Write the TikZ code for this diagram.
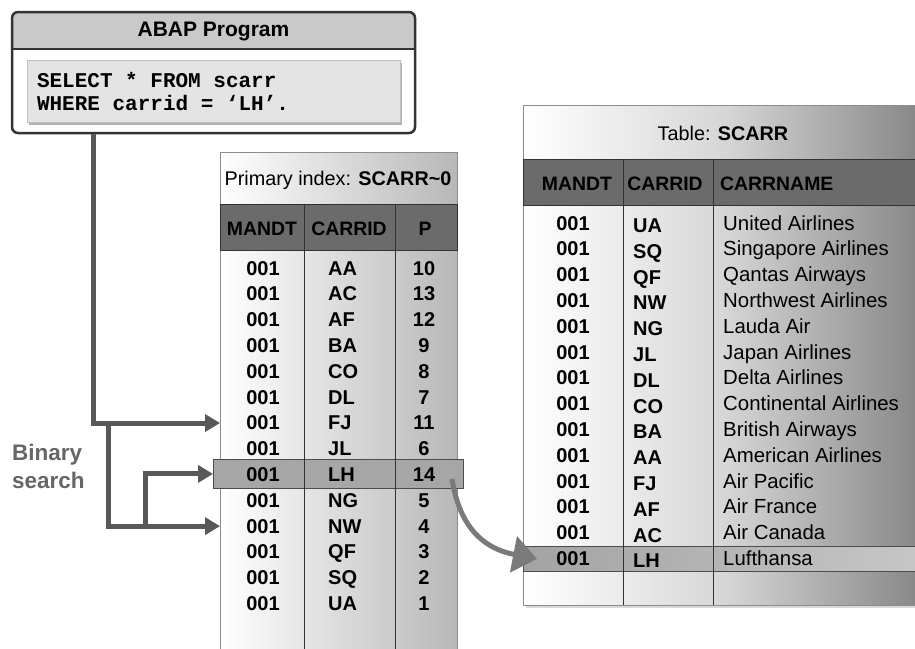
\documentclass[tikz,border=0pt]{standalone}
\usepackage{fontspec}
\setmainfont{Liberation Sans}
\setmonofont{Liberation Mono}
\usetikzlibrary{arrows.meta}

\definecolor{framecol}{HTML}{333333}
\definecolor{abaphead}{HTML}{C9C9C9}
\definecolor{codegray}{HTML}{E4E4E4}
\definecolor{linegray}{HTML}{585858}
\definecolor{hdrgray}{HTML}{6B6B6B}
\definecolor{hlgray}{HTML}{A6A6A6}
\definecolor{swooshgray}{HTML}{7A7A7A}
\definecolor{labelgray}{HTML}{666666}

\tikzset{
  abapbox/.style={draw=framecol, line width=2.5pt, rounded corners=6pt, minimum width=403pt, minimum height=121pt, inner sep=0pt},
  codebox/.style={fill=codegray, draw=black!25, text width=353pt, inner xsep=10pt, minimum height=62pt, align=left, font=\fontsize{21}{23}\selectfont\ttfamily\bfseries},
  tableframe/.style={draw=black!45, line width=0.8pt, inner sep=0pt, anchor=north west},
  hdrband/.style={fill=hdrgray, draw=black!80, line width=0.8pt, inner sep=0pt, anchor=north west},
  hlbar/.style={fill=hlgray, draw=black!70, line width=0.8pt, inner sep=0pt, anchor=north west},
  colline/.style={draw=black!80, line width=0.8pt},
  titletext/.style={anchor=base, inner sep=0pt, font=\fontsize{19.8}{22}\selectfont},
  hdrtext/.style={anchor=base, inner sep=0pt, font=\fontsize{19.4}{22}\selectfont\bfseries},
  celltext/.style={anchor=base, inner sep=0pt, font=\fontsize{20}{22}\selectfont\bfseries},
  nametext/.style={anchor=base west, inner sep=0pt, font=\fontsize{20.4}{22}\selectfont},
  conn/.style={draw=linegray, line width=5pt, -{Triangle[length=15pt,width=17pt]}},
  swoosh/.style={draw=swooshgray, line width=5pt, -{Triangle[length=24pt,width=36pt]}},
}

\begin{document}
\begin{tikzpicture}[x=1pt,y=-1pt]
\path[use as bounding box, clip] (0,0) rectangle (915,648);
\fill[white] (0,0) rectangle (915,648);

% ABAP program box
\begin{scope}
  \clip[rounded corners=6pt] (12,12) rectangle (415,133);
  \fill[abaphead] (12,12) rectangle (415,49);
\end{scope}
\draw[framecol, line width=1.2pt] (12,49) -- (415,49);
\node[abapbox] (abap) at (213.5,72.5) {};
\node[font=\fontsize{21}{24}\selectfont\bfseries] (abaptitle) at (213.5,31) {ABAP Program};
\fill[black!30] (29,63) rectangle (402,125);
\node[codebox] (code) at (213.5,91) {\spaceskip=12.6pt\relax SELECT * FROM scarr\\WHERE carrid = ‘LH’.};

% primary index
\node[tableframe, left color=white, right color=black!28, minimum width=237pt, minimum height=520pt] (idx) at (220,152) {};
\node[hdrband, minimum width=237pt, minimum height=46pt] (idxhead) at (220,204) {};
\node[titletext] (idxtitle) at (338,185) {Primary index: \textbf{SCARR\textasciitilde0}};
\node[hlbar, minimum width=250pt, minimum height=29pt] (lhbar) at (213,459) {};
\draw[colline] (304,204) -- (304,660);
\draw[colline] (395,204) -- (395,660);
\node[hdrtext] (ihmandt) at (262,235) {MANDT};
\node[hdrtext] (ihcarrid) at (349,235) {CARRID};
\node[hdrtext] (ihp) at (425,235) {P};
\foreach \cid/\ptr [count=\i] in {AA/10, AC/13, AF/12, BA/9, CO/8, DL/7, FJ/11, JL/6, LH/14, NG/5, NW/4, QF/3, SQ/2, UA/1} {
  \node[celltext] (im\i) at (263,{275+25.8*(\i-1)}) {001};
  \node[celltext, anchor=base west] (ic\i) at (328,{275+25.8*(\i-1)}) {\cid};
  \node[celltext] (ip\i) at (424,{275+25.8*(\i-1)}) {\ptr};
}

% table SCARR
\fill[black!15] (526,108) rectangle (925,608);
\node[tableframe, left color=white, right color=black!48, middle color=black!16, minimum width=402pt, minimum height=500pt] (tab) at (523,105) {};
\node[hdrband, minimum width=402pt, minimum height=46pt] (tabhead) at (523,159) {};
\node[titletext] (tabtitle) at (723,140) {Table: \textbf{SCARR}};
\node[hlbar, left color=black!36, right color=black!22, minimum width=402pt, minimum height=25pt] (lhrow) at (523,546) {};
\draw[colline] (623,159) -- (623,605);
\draw[colline] (713,159) -- (713,605);
\node[hdrtext] (thmandt) at (577,190) {MANDT};
\node[hdrtext] (thcarrid) at (665,190) {CARRID};
\node[hdrtext, anchor=base west] (thname) at (720,190) {CARRNAME};
\foreach \cid/\cname [count=\i] in {UA/United Airlines, SQ/Singapore Airlines, QF/Qantas Airways, NW/Northwest Airlines, NG/Lauda Air, JL/Japan Airlines, DL/Delta Airlines, CO/Continental Airlines, BA/British Airways, AA/American Airlines, FJ/Air Pacific, AF/Air France, AC/Air Canada, LH/Lufthansa} {
  \node[celltext] (tm\i) at (573,{230+25.8*(\i-1)}) {001};
  \node[celltext, anchor=base west] (tc\i) at (633,{232.5+25.8*(\i-1)}) {\cid};
  \node[nametext] (tn\i) at (723,{230+25.8*(\i-1)}) {\cname};
}

% binary search
\node[anchor=west, align=left, inner sep=0pt, text=labelgray, font=\fontsize{22.5}{28}\selectfont\bfseries] (bsearch) at (12,466) {Binary\\search};
\coordinate (b1) at (108,0 |- ic7);
\coordinate (b2) at (145,0 |- ic11);
\draw[conn] (abap.south -| 93,0) |- (idx.west |- ic7);
\draw[conn] (b1) |- (idx.west |- ic11);
\draw[conn] (b2) |- (lhbar.west);

% index entry to table row
\coordinate (swfrom) at (452,479);
\draw[swoosh] (swfrom) .. controls (460,530) and (486,549) .. ([xshift=14pt]lhrow.west);
\end{tikzpicture}
\end{document}
